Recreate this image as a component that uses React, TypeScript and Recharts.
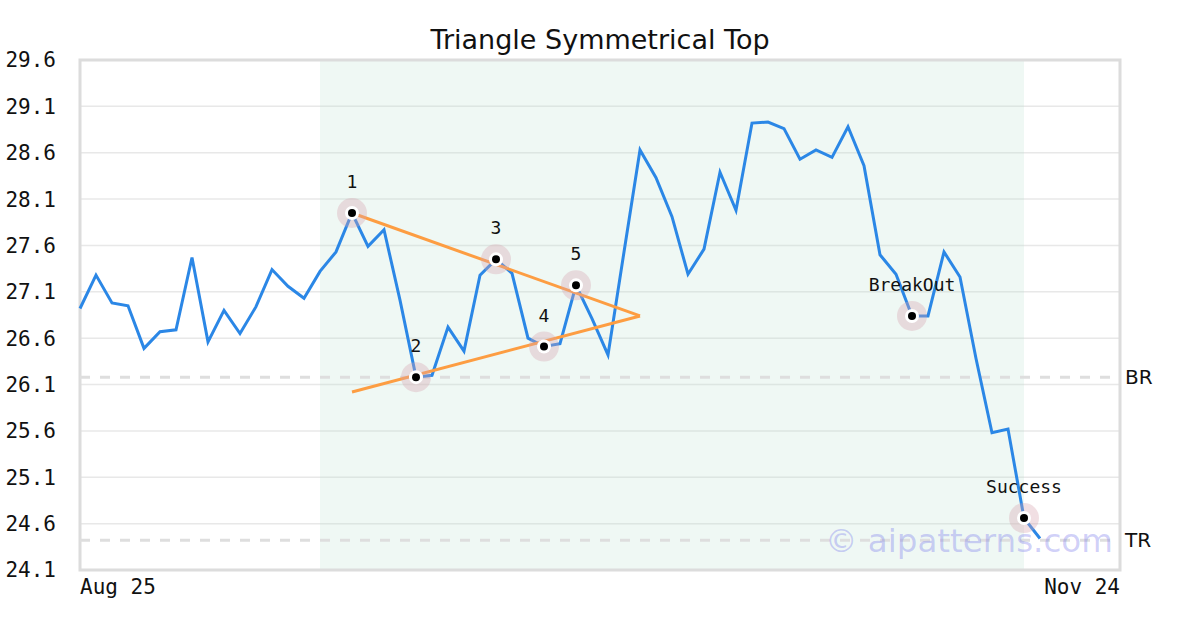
import {
  ComposedChart,
  Line,
  Scatter,
  XAxis,
  YAxis,
  CartesianGrid,
  ReferenceArea,
  ReferenceLine,
} from "recharts";

// price series, one value per trading day (index = day)
const prices = [
  26.92, 27.28, 26.98, 26.95, 26.49, 26.67, 26.69, 27.47, 26.56, 26.9,
  26.65, 26.94, 27.34, 27.16, 27.03, 27.32, 27.53, 27.95, 27.59, 27.77,
  27.01, 26.18, 26.2, 26.72, 26.46, 27.28, 27.45, 27.3, 26.6, 26.51,
  26.54, 27.17, 26.81, 26.42, 27.53, 28.63, 28.33, 27.91, 27.29, 27.56,
  28.39, 27.98, 28.92, 28.93, 28.86, 28.53, 28.63, 28.55, 28.88, 28.46,
  27.5, 27.29, 26.84, 26.84, 27.53, 27.26, 26.38, 25.58, 25.62, 24.66,
  24.44,
];

const upperTrend = [
  { idx: 17, value: 27.95 },
  { idx: 35, value: 26.84 },
];
const lowerTrend = [
  { idx: 17, value: 26.02 },
  { idx: 35, value: 26.84 },
];

const markerIdx = [17, 21, 26, 29, 31, 52, 59];
const markerValues = [27.95, 26.18, 27.45, 26.51, 27.17, 26.84, 24.66];
const markerLabels = ["1", "2", "3", "4", "5", "BreakOut", "Success"];

const yTicks = [24.1, 24.6, 25.1, 25.6, 26.1, 26.6, 27.1, 27.6, 28.1, 28.6, 29.1, 29.6];
const xTickIdx = [0, 65];
const xTickLabels = ["Aug 25", "Nov 24"];

const breakoutLevel = 26.18; // BR
const targetLevel = 24.42; // TR
const patternStart = 15;
const patternEnd = 59;

const priceData = prices.map((p, i) => ({ idx: i, price: p }));
const markers = markerIdx.map((idx, i) => ({
  idx,
  value: markerValues[i],
  label: markerLabels[i],
}));

const MONO = "'DejaVu Sans Mono', monospace";
const SANS = "'DejaVu Sans', sans-serif";

function Marker(props: any) {
  const { cx, cy, payload } = props;
  if (cx == null || cy == null) return null;
  return (
    <g>
      <circle cx={cx} cy={cy} r={15} fill="#d6a3b0" fillOpacity={0.35} />
      <circle cx={cx} cy={cy} r={7} fill="#fff" />
      <circle cx={cx} cy={cy} r={4} fill="#000" />
      <text
        x={cx}
        y={cy - 30}
        textAnchor="middle"
        dominantBaseline="middle"
        fontFamily={MONO}
        fontSize={18}
        fill="#111"
      >
        {payload.label}
      </text>
    </g>
  );
}

function XTick(props: any) {
  const { x, y, payload, index } = props;
  const i = xTickIdx.indexOf(payload.value);
  return (
    <text
      x={x}
      y={y}
      dy="0.71em"
      textAnchor={index === 0 ? "start" : "end"}
      fontFamily={MONO}
      fontSize={21}
      fill="#111"
    >
      {xTickLabels[i]}
    </text>
  );
}

export default function App() {
  return (
    <div style={{ position: "absolute", left: 0, top: 0, width: 1200, height: 630, background: "#fff" }}>
      <div
        style={{
          position: "absolute",
          left: 0,
          top: 23,
          width: 1200,
          textAlign: "center",
          fontFamily: SANS,
          fontSize: 27,
          color: "#111",
          lineHeight: "34px",
        }}
      >
        Triangle Symmetrical Top
      </div>
      <ComposedChart
        width={1200}
        height={630}
        data={priceData}
        margin={{ top: 60, right: 80, bottom: 30, left: 0 }}
      >
        <ReferenceArea
          x1={patternStart}
          x2={patternEnd}
          y1={24.1}
          y2={29.6}
          fill="#b8dfcd"
          fillOpacity={0.22}
          stroke="none"
        />
        <CartesianGrid vertical={false} stroke="#e8e8e8" strokeWidth={1.5} />
        <XAxis
          dataKey="idx"
          type="number"
          domain={[0, 65]}
          ticks={xTickIdx}
          tick={<XTick />}
          tickLine={false}
          axisLine={false}
          tickSize={0}
          tickMargin={9}
          height={30}
        />
        <YAxis
          type="number"
          domain={[24.1, 29.6]}
          ticks={yTicks}
          tickFormatter={(v: number) => v.toFixed(1)}
          tick={{ fontFamily: MONO, fontSize: 21, fill: "#111" }}
          tickLine={false}
          axisLine={false}
          tickSize={0}
          tickMargin={24}
          width={80}
        />
        <ReferenceArea
          x1={0}
          x2={65}
          y1={24.1}
          y2={29.6}
          fill="none"
          stroke="#dcdcdc"
          strokeWidth={3}
        />
        <ReferenceLine
          y={breakoutLevel}
          stroke="#dedede"
          strokeWidth={3}
          strokeDasharray="10 10"
          label={{ value: "BR", position: "right", fontFamily: SANS, fontSize: 20, fill: "#111" }}
        />
        <ReferenceLine
          y={targetLevel}
          stroke="#dedede"
          strokeWidth={3}
          strokeDasharray="10 10"
          label={{ value: "TR", position: "right", fontFamily: SANS, fontSize: 20, fill: "#111" }}
        />
        <Line
          dataKey="price"
          stroke="#2b87e6"
          strokeWidth={3}
          dot={false}
          activeDot={false}
          isAnimationActive={false}
        />
        <Line
          data={upperTrend}
          dataKey="value"
          stroke="#fd9d42"
          strokeWidth={3}
          dot={false}
          activeDot={false}
          isAnimationActive={false}
        />
        <Line
          data={lowerTrend}
          dataKey="value"
          stroke="#fd9d42"
          strokeWidth={3}
          dot={false}
          activeDot={false}
          isAnimationActive={false}
        />
        <Scatter data={markers} dataKey="value" shape={<Marker />} isAnimationActive={false} />
      </ComposedChart>
      <div
        style={{
          position: "absolute",
          left: 825,
          top: 521,
          fontFamily: SANS,
          fontSize: 32.5,
          lineHeight: "40px",
          color: "rgba(110, 110, 235, 0.32)",
          whiteSpace: "nowrap",
        }}
      >
        © aipatterns.com
      </div>
    </div>
  );
}
